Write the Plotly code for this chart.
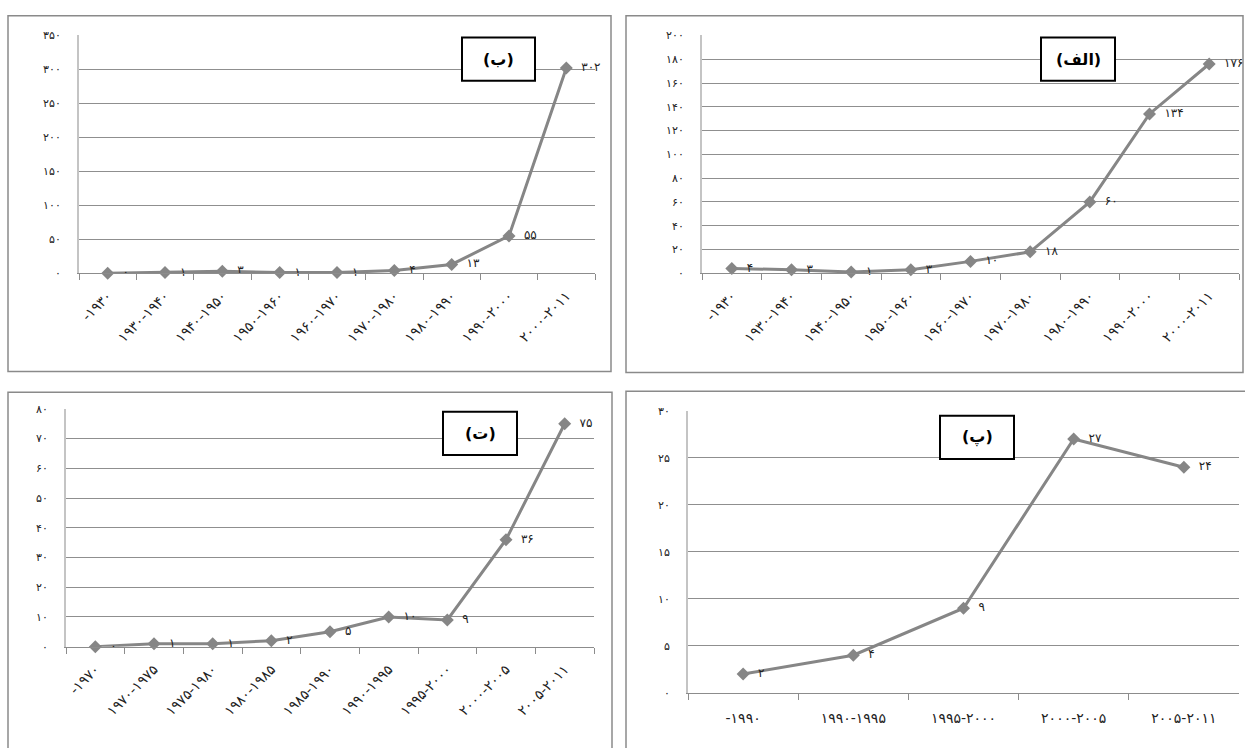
import plotly.graph_objects as go

W, H = 1245, 748

FA = str.maketrans("0123456789", "۰۱۲۳۴۵۶۷۸۹")


def to_fa(v):
    return str(v).translate(FA)


# ---- panel (الف) : top right ----
cats_alef = ["-۱۹۳۰", "۱۹۳۰-۱۹۴۰", "۱۹۴۰-۱۹۵۰", "۱۹۵۰-۱۹۶۰", "۱۹۶۰-۱۹۷۰",
             "۱۹۷۰-۱۹۸۰", "۱۹۸۰-۱۹۹۰", "۱۹۹۰-۲۰۰۰", "۲۰۰۰-۲۰۱۱"]
vals_alef = [4, 3, 1, 3, 10, 18, 60, 134, 176]
yticks_alef = [0, 20, 40, 60, 80, 100, 120, 140, 160, 180, 200]

# ---- panel (ب) : top left ----
cats_be = ["-۱۹۳۰", "۱۹۳۰-۱۹۴۰", "۱۹۴۰-۱۹۵۰", "۱۹۵۰-۱۹۶۰", "۱۹۶۰-۱۹۷۰",
           "۱۹۷۰-۱۹۸۰", "۱۹۸۰-۱۹۹۰", "۱۹۹۰-۲۰۰۰", "۲۰۰۰-۲۰۱۱"]
vals_be = [0, 1, 3, 1, 1, 4, 13, 55, 302]
yticks_be = [0, 50, 100, 150, 200, 250, 300, 350]

# ---- panel (پ) : bottom right ----
cats_pe = ["-۱۹۹۰", "۱۹۹۰-۱۹۹۵", "۱۹۹۵-۲۰۰۰", "۲۰۰۰-۲۰۰۵", "۲۰۰۵-۲۰۱۱"]
vals_pe = [2, 4, 9, 27, 24]
yticks_pe = [0, 5, 10, 15, 20, 25, 30]

# ---- panel (ت) : bottom left ----
cats_te = ["-۱۹۷۰", "۱۹۷۰-۱۹۷۵", "۱۹۷۵-۱۹۸۰", "۱۹۸۰-۱۹۸۵", "۱۹۸۵-۱۹۹۰",
           "۱۹۹۰-۱۹۹۵", "۱۹۹۵-۲۰۰۰", "۲۰۰۰-۲۰۰۵", "۲۰۰۵-۲۰۱۱"]
vals_te = [0, 1, 1, 2, 5, 10, 9, 36, 75]
yticks_te = [0, 10, 20, 30, 40, 50, 60, 70, 80]

titles = ["(ب)", "(الف)", "(ت)", "(پ)"]

FONT = "DejaVu Sans"
LINE_C = "#868686"


def px_x(p):
    return p / W


def px_y(p):
    return 1 - p / H


# (cats, vals, yticks, plot-area px [x0, x1, ytop, ybottom], border px, title box px, tickangle)
panels = [
    (cats_be, vals_be, yticks_be, (79, 595, 30, 272), (8, 611, 10, 372), (462, 535, 32, 76), -45),
    (cats_alef, vals_alef, yticks_alef, (702, 1239, 30, 272), (626, 1243, 10, 373), (1041, 1115, 32, 76), -45),
    (cats_te, vals_te, yticks_te, (66, 594, 410, 652), (8, 612, 393, 760), (443, 517, 413, 457), -45),
    (cats_pe, vals_pe, yticks_pe, (688, 1239, 412, 699), (626, 1250, 392, 760), (940, 1014, 417, 461), 0),
]

fig = go.Figure()
layout = dict(
    width=W, height=H, autosize=False,
    margin=dict(l=0, r=0, t=0, b=0),
    paper_bgcolor="white", plot_bgcolor="white",
    showlegend=False,
    font=dict(family=FONT, color="#222"),
)
shapes = []
annotations = []

for i, (cats, vals, yt, area, border, tbox, tang) in enumerate(panels):
    n = i + 1
    xa = "x" if n == 1 else f"x{n}"
    ya = "y" if n == 1 else f"y{n}"
    xkey = "xaxis" if n == 1 else f"xaxis{n}"
    ykey = "yaxis" if n == 1 else f"yaxis{n}"
    x0, x1, yt0, yb0 = area
    fig.add_trace(go.Scatter(
        x=cats, y=vals, xaxis=xa, yaxis=ya,
        mode="lines+markers+text",
        text=[to_fa(v) for v in vals],
        texttemplate="\u00a0\u00a0%{text}",
        textposition="middle right",
        textfont=dict(size=12, color="#222", family=FONT),
        line=dict(color=LINE_C, width=3),
        marker=dict(symbol="diamond", size=10, color=LINE_C),
        cliponaxis=False,
        hoverinfo="skip",
    ))
    layout[xkey] = dict(
        domain=[px_x(x0), px_x(x1)], anchor=ya, type="category",
        categoryorder="array", categoryarray=cats,
        range=[-0.5, len(cats) - 0.5],
        showgrid=False, zeroline=False,
        showline=True, linecolor="#8c8c8c", linewidth=1,
        ticks="outside", tickson="boundaries", ticklen=6, tickcolor="#8c8c8c",
        tickangle=tang, tickfont=dict(size=14, color="#222", family=FONT),
        ticklabelstandoff=8 if tang else 12,
        fixedrange=True,
    )
    layout[ykey] = dict(
        domain=[px_y(yb0), px_y(yt0)], anchor=xa,
        range=[yt[0], yt[-1]],
        tickvals=yt, ticktext=[to_fa(v) for v in yt],
        showgrid=True, gridcolor="#8f8f8f", gridwidth=1,
        zeroline=False, showline=True, linecolor="#c4c4c4", linewidth=2,
        ticks="", tickfont=dict(size=11, color="#222", family=FONT),
        ticklabelstandoff=14,
        fixedrange=True,
    )
    bx0, bx1, by0, by1 = border
    shapes.append(dict(type="rect", xref="paper", yref="paper",
                       x0=px_x(bx0), x1=px_x(bx1), y0=px_y(by1), y1=px_y(by0),
                       line=dict(color="#8a8a8a", width=1.5), fillcolor="rgba(0,0,0,0)",
                       layer="above"))
    tx0, tx1, ty0, ty1 = tbox
    shapes.append(dict(type="rect", xref="paper", yref="paper",
                       x0=px_x(tx0), x1=px_x(tx1), y0=px_y(ty1), y1=px_y(ty0),
                       line=dict(color="black", width=2), fillcolor="white",
                       layer="above"))
    annotations.append(dict(xref="paper", yref="paper",
                            x=px_x((tx0 + tx1) / 2), y=px_y((ty0 + ty1) / 2),
                            text=f"<b>{titles[i]}</b>", showarrow=False,
                            font=dict(size=16, color="black", family=FONT),
                            xanchor="center", yanchor="middle"))

layout["shapes"] = shapes
layout["annotations"] = annotations
fig.update_layout(**layout)
fig.write_html("out.html",
               config={"displayModeBar": False, "staticPlot": True},
               post_script="document.body.style.margin='0';document.body.style.overflow='hidden';")
